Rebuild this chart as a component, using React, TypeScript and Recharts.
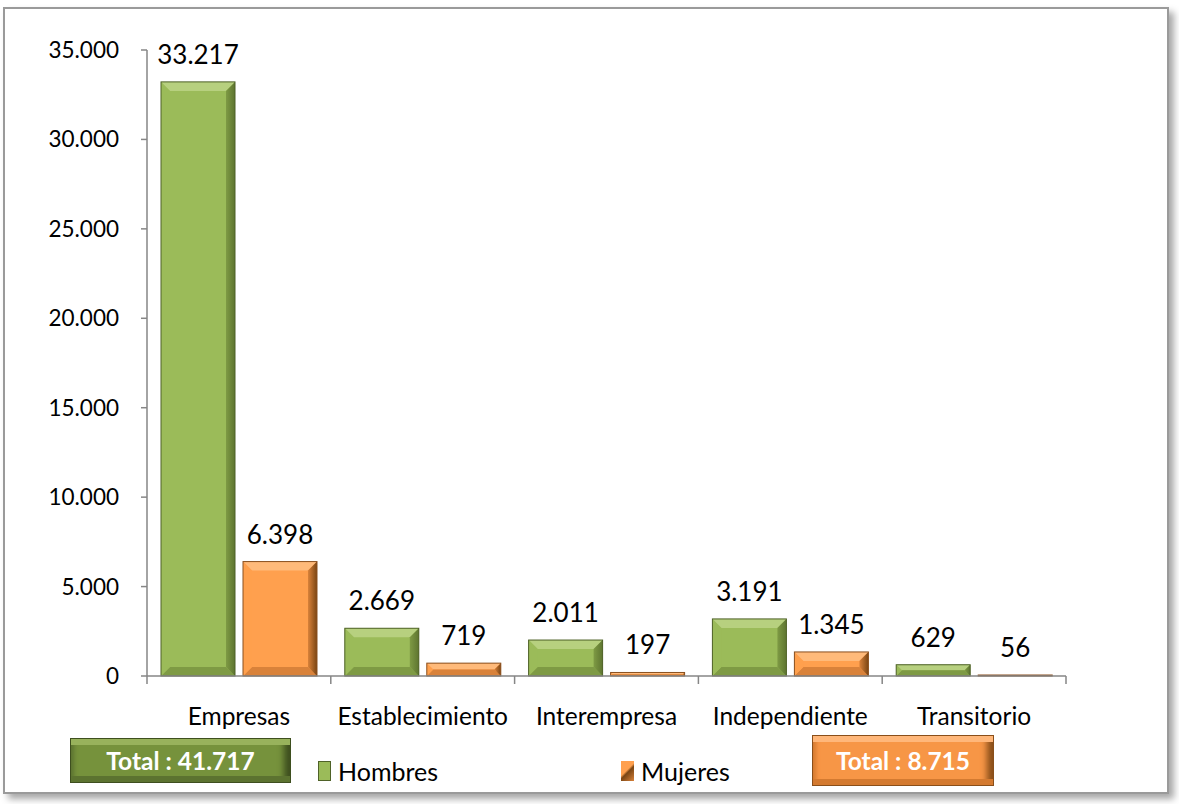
import React from 'react';
import { BarChart, Bar, XAxis, YAxis, LabelList } from 'recharts';

const categories = ['Empresas', 'Establecimiento', 'Interempresa', 'Independiente', 'Transitorio'];
const hombres = [33217, 2669, 2011, 3191, 629];
const mujeres = [6398, 719, 197, 1345, 56];
const yTicks = [0, 5000, 10000, 15000, 20000, 25000, 30000, 35000];
const totalHombres = 'Total : 41.717';
const totalMujeres = 'Total : 8.715';
const seriesNames = ['Hombres', 'Mujeres'];

const data = categories.map((c, i) => ({ cat: c, hombres: hombres[i], mujeres: mujeres[i] }));

const W = 1179;
const H = 804;
const M = { top: 50, right: 113, left: 0, bottom: 88 };
const Y_W = 147;
const FONT = 'Lato, "Open Sans", sans-serif';

const fmt = (v: number) => String(v).replace(/\B(?=(\d{3})+(?!\d))/g, '.');

const PAL = {
  green: { base: '#9BBB59', light: '#B7D07F', dark: '#7E9A44', edge: '#5E7530', border: '#4F6228' },
  orange: { base: '#FFA04E', light: '#FFBA7A', dark: '#D9823A', edge: '#7A4513', border: '#8A5020' },
};

const makeBevel = (key: 'green' | 'orange') => (props: any) => {
  const { x, y, width, height } = props;
  if (!height || height <= 0) return null;
  const p = PAL[key];
  const b = Math.max(0, Math.min(9, height / 2, width / 2));
  const gid = `side-${key}`;
  return (
    <g>
      <defs>
        <linearGradient id={gid} x1="0" y1="0" x2="1" y2="0">
          <stop offset="0%" stopColor={p.dark} />
          <stop offset="100%" stopColor={p.edge} />
        </linearGradient>
      </defs>
      <rect x={x} y={y} width={width} height={height} fill={p.base} />
      <polygon points={`${x},${y} ${x + width},${y} ${x + width - b},${y + b} ${x + b},${y + b}`} fill={p.light} />
      <polygon points={`${x},${y + height} ${x + width},${y + height} ${x + width - b},${y + height - b} ${x + b},${y + height - b}`} fill={p.dark} />
      <polygon points={`${x},${y} ${x + b},${y + b} ${x + b},${y + height - b} ${x},${y + height}`} fill={p.base} opacity={0.85} />
      <polygon points={`${x + width},${y} ${x + width - b},${y + b} ${x + width - b},${y + height - b} ${x + width},${y + height}`} fill={`url(#${gid})`} />
      <rect x={x} y={y} width={width} height={height} fill="none" stroke={p.border} strokeWidth={1} />
    </g>
  );
};

const plotW = W - Y_W - M.left - M.right;
const band = plotW / categories.length;

const CatTick = (props: any) => {
  const { x, y, payload, index } = props;
  const axisY = y - 8;
  return (
    <g>
      {index === 0 && <line x1={x - band / 2} x2={x - band / 2} y1={axisY} y2={axisY + 8} stroke="#868686" strokeWidth={1.5} />}
      <line x1={x + band / 2} x2={x + band / 2} y1={axisY} y2={axisY + 8} stroke="#868686" strokeWidth={1.5} />
      <text x={x} y={axisY + 49} textAnchor="middle" fontSize={24.5} fontFamily={FONT} fill="#000">
        {payload.value}
      </text>
    </g>
  );
};

const bevelBox = (bg: string, light: string, dark: string, edge: string): React.CSSProperties => ({
  position: 'absolute',
  background: bg,
  boxShadow: `inset 0 8px 0 -2px ${light}, inset 0 -8px 0 -2px ${dark}, inset -9px 0 6px -3px ${edge}, inset 6px 0 4px -3px ${dark}`,
  border: `1px solid ${edge}`,
  color: '#fff',
  fontFamily: FONT,
  fontWeight: 700,
  fontSize: 24.5,
  display: 'flex',
  alignItems: 'center',
  justifyContent: 'center',
  boxSizing: 'border-box',
});

const labelStyle = { fontSize: 26, fontFamily: FONT, fill: '#000' };

export default function App() {
  return (
    <div style={{ position: 'absolute', left: 0, top: 0, width: W, height: H, background: '#fff', overflow: 'hidden' }}>
      <div
        style={{
          position: 'absolute',
          left: 3,
          top: 7,
          width: 1166,
          height: 787,
          border: '2px solid #9a9a9a',
          boxShadow: '5px 5px 7px rgba(0,0,0,0.35)',
          boxSizing: 'border-box',
          background: '#fff',
        }}
      />
      <div style={{ position: 'absolute', left: 0, top: 0 }}>
        <BarChart width={W} height={H} data={data} margin={M} barCategoryGap={14} barGap={8}>
          <XAxis
            dataKey="cat"
            tick={<CatTick />}
            tickLine={false}
            axisLine={{ stroke: '#868686', strokeWidth: 1.5 }}
            interval={0}
            height={40}
          />
          <YAxis
            width={Y_W}
            domain={[0, 35000]}
            ticks={yTicks}
            tickFormatter={fmt}
            tickSize={6}
            tickMargin={22}
            tick={{ fontSize: 22.5, fontFamily: FONT, fill: '#000' }}
            axisLine={{ stroke: '#868686', strokeWidth: 1.5 }}
            tickLine={{ stroke: '#868686', strokeWidth: 1.5 }}
          />
          <Bar dataKey="hombres" name={seriesNames[0]} fill={PAL.green.base} shape={makeBevel('green')} isAnimationActive={false}>
            <LabelList dataKey="hombres" position="top" offset={18} formatter={(v: any) => fmt(Number(v))} style={labelStyle} />
          </Bar>
          <Bar dataKey="mujeres" name={seriesNames[1]} fill={PAL.orange.base} shape={makeBevel('orange')} isAnimationActive={false}>
            <LabelList dataKey="mujeres" position="top" offset={18} formatter={(v: any) => fmt(Number(v))} style={labelStyle} />
          </Bar>
        </BarChart>
      </div>
      <div style={{ ...bevelBox('#76923C', '#98B25C', '#5C7330', '#3E4F1F'), left: 70, top: 738, width: 221, height: 45 }}>{totalHombres}</div>
      <div style={{ ...bevelBox('#F79646', '#FFB77A', '#D47A30', '#8A4F1A'), left: 812, top: 735, width: 182, height: 51 }}>{totalMujeres}</div>
      <div style={{ position: 'absolute', left: 318, top: 756, display: 'flex', alignItems: 'center', fontFamily: FONT, fontSize: 25 }}>
        <span style={{ width: 13, height: 20, background: PAL.green.base, border: `1px solid ${PAL.green.border}`, boxSizing: 'border-box', marginRight: 7 }} />
        <span>{seriesNames[0]}</span>
      </div>
      <div style={{ position: 'absolute', left: 621, top: 756, display: 'flex', alignItems: 'center', fontFamily: FONT, fontSize: 25 }}>
        <span style={{ width: 13, height: 20, background: `linear-gradient(135deg, ${PAL.orange.base} 0%, ${PAL.orange.base} 45%, ${PAL.orange.edge} 55%, ${PAL.orange.dark} 100%)`, boxSizing: 'border-box', marginRight: 7 }} />
        <span>{seriesNames[1]}</span>
      </div>
    </div>
  );
}
